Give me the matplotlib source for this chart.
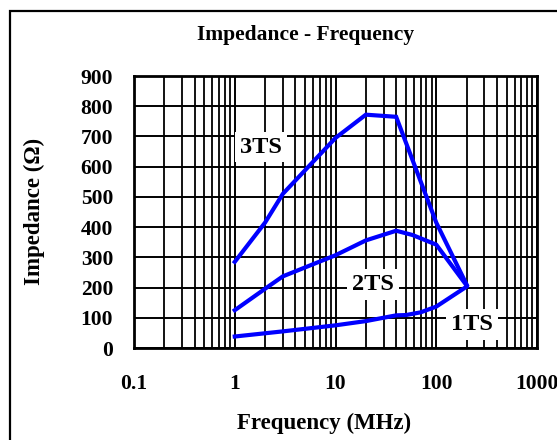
import numpy as np
import matplotlib
matplotlib.use('Agg')
import matplotlib.pyplot as plt
from matplotlib.patches import Rectangle
from matplotlib.ticker import LogLocator, NullFormatter

plt.rcParams['font.family'] = ['Liberation Serif', 'DejaVu Serif']
plt.rcParams['font.weight'] = 'bold'

# data (MHz, Ohm)
f_3ts = [1, 2, 3, 10, 20, 40, 100, 200]
z_3ts = [285, 415, 510, 695, 772, 765, 415, 210]

f_2ts = [1, 2, 3, 10, 20, 40, 58, 100, 200]
z_2ts = [125, 196, 237, 307, 356, 388, 374, 342, 207]

f_1ts = [1, 3, 10, 20, 40, 50, 70, 100, 200]
z_1ts = [38, 55, 75, 89, 108, 109, 118, 137, 203]

x_ticks = [0.1, 1, 10, 100, 1000]
x_ticklabels = ['0.1', '1', '10', '100', '1000']
y_ticks = list(range(0, 1000, 100))

labels = ['3TS', '2TS', '1TS']
label_pos = [(1.82, 665), (23.5, 211), (226, 78)]

fig = plt.figure(figsize=(5.57, 4.40), dpi=100)
ax = fig.add_axes([134/557, 1 - 348/440, (537 - 134)/557, (348 - 76)/440])

blue = '#0000ff'
for f, z in [(f_3ts, z_3ts), (f_2ts, z_2ts), (f_1ts, z_1ts)]:
    ax.plot(f, z, color=blue, lw=3, zorder=4, solid_joinstyle='miter')

for s, (x, y) in zip(labels, label_pos):
    ax.text(x, y, s, fontsize=17.5, fontweight='bold', ha='center', va='center',
            zorder=3, bbox=dict(facecolor='white', edgecolor='none', pad=3.5))

ax.set_xscale('log')
ax.set_xlim(0.1, 1000)
ax.set_ylim(0, 900)
ax.set_xticks(x_ticks)
ax.set_xticklabels(x_ticklabels)
ax.xaxis.set_minor_locator(LogLocator(base=10, subs=np.arange(2, 10)))
ax.xaxis.set_minor_formatter(NullFormatter())
ax.set_yticks(y_ticks)

ax.set_axisbelow(True)
ax.grid(True, which='major', axis='both', color='black', lw=1.4)
ax.grid(True, which='minor', axis='x', color='black', lw=1.3)

ax.tick_params(which='both', length=0)
ax.tick_params(axis='x', pad=19, labelsize=15.5)
ax.tick_params(axis='y', pad=15, labelsize=15.5)
for lab in ax.get_xticklabels() + ax.get_yticklabels():
    lab.set_fontweight('bold')
for sp in ax.spines.values():
    sp.set_linewidth(2)

fig.text(306/557, 1 - 35/440, 'Impedance - Frequency', fontsize=15.5,
         fontweight='bold', ha='center', va='center')
fig.text(324/557, 1 - 423/440, 'Frequency (MHz)', fontsize=16.5,
         fontweight='bold', ha='center', va='center')
fig.text(34/557, 1 - 211/440, 'Impedance (\u03a9)', fontsize=16.5,
         fontweight='bold', ha='center', va='center', rotation=90)

# outer frame, runs off the right and bottom edges
fig.patches.append(Rectangle((10/557, -0.1), 1.2, 1.1 - 11/440, fill=False,
                             lw=1.6, edgecolor='black',
                             transform=fig.transFigure, clip_on=False))

fig.savefig('out.png', dpi=100)
